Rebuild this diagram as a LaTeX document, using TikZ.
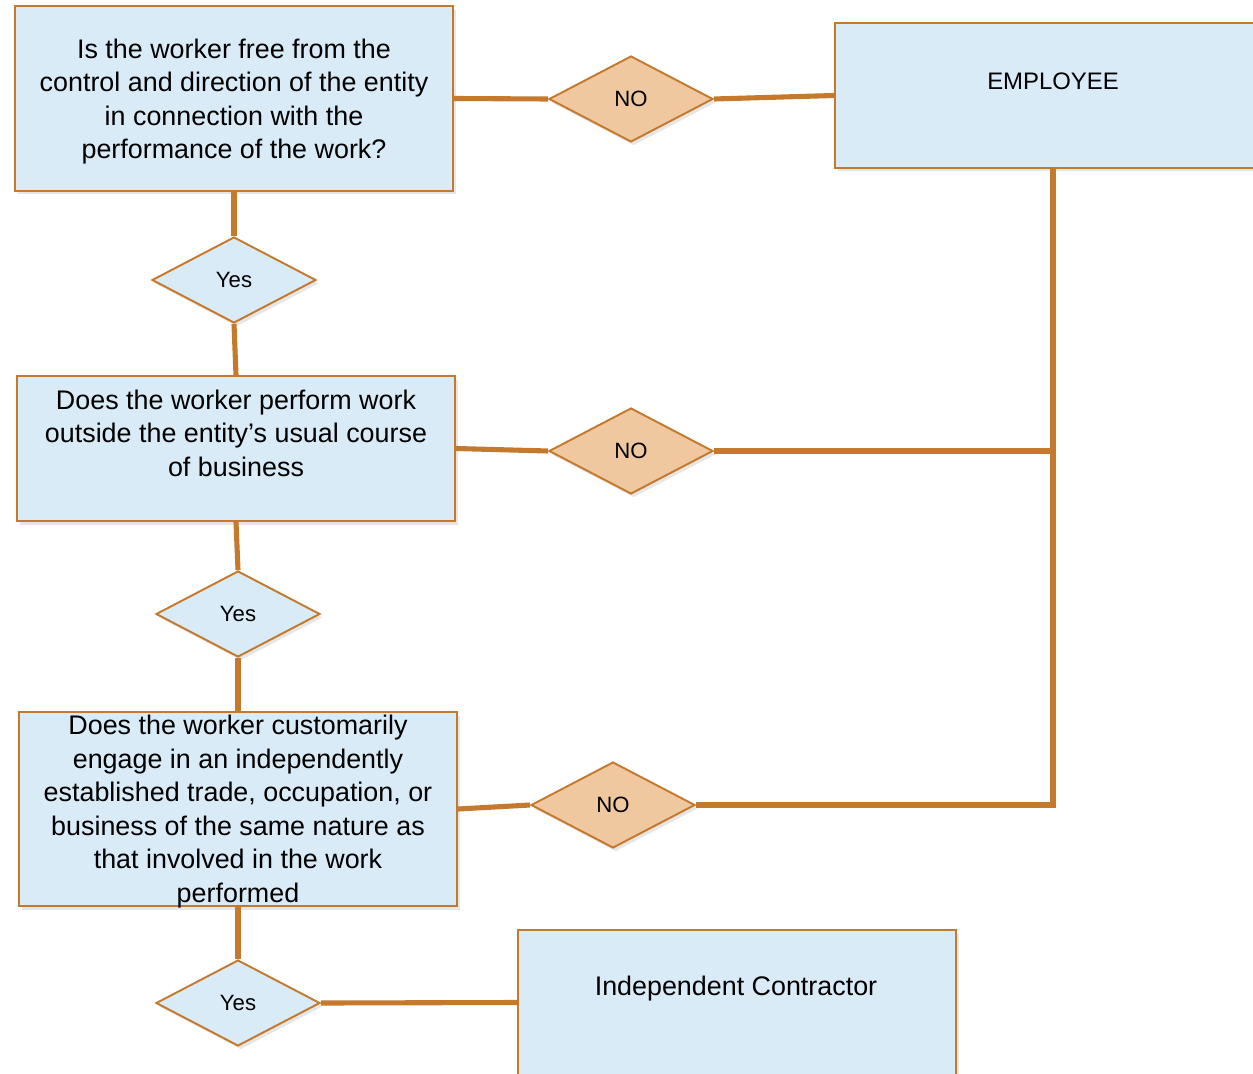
\documentclass[tikz,border=0pt]{standalone}
\usepackage{fontspec}
\setmainfont{Liberation Sans}
\usetikzlibrary{shapes.geometric,shadows,calc}
\definecolor{boxblue}{RGB}{218,235,248}
\definecolor{lineorange}{RGB}{196,121,45}
\definecolor{nofill}{RGB}{239,200,160}

\begin{document}
\begin{tikzpicture}[
    x=0.02cm, y=-0.02cm,
    box/.style={rectangle, draw=lineorange, line width=1.1pt, fill=boxblue, minimum width=8.76cm, inner sep=0pt, drop shadow={shadow xshift=1.5pt, shadow yshift=-2pt, opacity=0.2}},
    boxtext/.style={align=center, inner sep=0pt, font=\fontsize{15.3}{19.1}\selectfont},
    yesdia/.style={diamond, draw=lineorange, line width=1.1pt, fill=boxblue, minimum width=3.28cm, minimum height=1.72cm, inner sep=0pt, font=\fontsize{12.6}{14}\selectfont, drop shadow={shadow xshift=1.5pt, shadow yshift=-2pt, opacity=0.2}},
    nodia/.style={yesdia, fill=nofill},
    link/.style={draw=lineorange, line width=2.9pt}
]
\useasboundingbox (0,0) rectangle (1253,1074);

% question boxes
\node[box, minimum height=3.7cm] (q1) at (234,98.5) {};
\node[box, minimum height=2.9cm] (q2) at (236,448.5) {};
\node[box, minimum height=3.88cm] (q3) at (238,809) {};
\node[box, minimum width=8.72cm, minimum height=2.9cm] (emp) at (1053,95.5) {};
\node[box, minimum height=2.9cm] (ic) at (737,1002.5) {};

\node[boxtext] (q1text) at (234,101.5) {Is the worker free from the\\control and direction of the entity\\in connection with the\\performance of the work?};
\node[boxtext] (q2text) at (236,433) {Does the worker perform work\\outside the entity’s usual course\\of business};
\node[boxtext] (q3text) at (238,811.5) {Does the worker customarily\\engage in an independently\\established trade, occupation, or\\business of the same nature as\\that involved in the work\\performed};
\node[boxtext, font=\fontsize{13.6}{16}\selectfont] (emptext) at (1053,81) {EMPLOYEE};
\node[boxtext] (ictext) at (736,989) {Independent Contractor};

% decisions
\node[nodia] (no1) at (631,99) {\raisebox{-1.5pt}{NO}};
\node[nodia] (no2) at (631,451) {\raisebox{-1.5pt}{NO}};
\node[nodia] (no3) at (613,805) {\raisebox{-1.5pt}{NO}};
\node[yesdia] (yes1) at (234,280) {\raisebox{-1.5pt}{Yes}};
\node[yesdia] (yes2) at (238,614) {\raisebox{-1.5pt}{Yes}};
\node[yesdia] (yes3) at (238,1003) {\raisebox{-1.5pt}{Yes}};

% connectors
\draw[link] (q1.east) -- (no1.west);
\draw[link] (no1.east) -- (emp.west);
\draw[link] (q1.south) -- (yes1.north);
\draw[link] (yes1.south) -- (q2.north);
\draw[link] (q2.east) -- (no2.west);
\draw[link] (q2.south) -- (yes2.north);
\draw[link] (yes2.south) -- (q3.north);
\draw[link] (q3.east) -- (no3.west);
\draw[link] (q3.south) -- (yes3.north);
\draw[link] (yes3.east) -- (ic.west);
\draw[link, line width=3.3pt] (emp.south) |- (no3.east);
\draw[link] (no2.east) -- (emp.south |- no2.east);

\end{tikzpicture}
\end{document}
